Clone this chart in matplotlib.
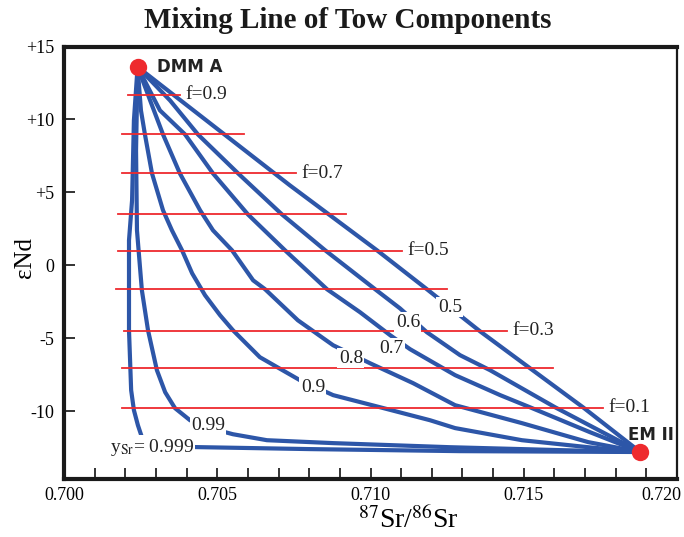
import matplotlib
matplotlib.use('Agg')
import matplotlib.pyplot as plt
from matplotlib.ticker import MultipleLocator, FixedLocator, FixedFormatter

plt.rcParams['font.family'] = ['Liberation Serif', 'DejaVu Serif']
plt.rcParams['mathtext.fontset'] = 'stix'

# end members
dmm_x, dmm_y = 0.7024, 13.6
em_x, em_y = 0.7188, -12.8

# mixing curves, points (between the two end members)
x_999 = [0.70228, 0.70222, 0.70212, 0.70212, 0.70219, 0.70228, 0.70241, 0.70254, 0.70281, 0.70450, 0.70803, 0.71292]
y_999 = [9.93, 4.45, 1.71, -4.45, -8.56, -9.93, -10.96, -11.78, -12.40, -12.47, -12.60, -12.74]

x_99 = [0.70235, 0.70238, 0.70254, 0.70274, 0.70303, 0.70330, 0.70362, 0.70411, 0.70476, 0.70551, 0.70662, 0.70878, 0.71259, 0.71618]
y_99 = [7.88, 2.40, -1.71, -4.45, -7.19, -8.70, -9.79, -10.62, -11.16, -11.58, -11.99, -12.19, -12.47, -12.67]

x_9 = [0.70251, 0.70264, 0.70287, 0.70323, 0.70352, 0.70385, 0.70418, 0.70460, 0.70509, 0.70551, 0.70639, 0.70770, 0.70878, 0.71031, 0.71194, 0.71276, 0.71494, 0.71710]
y_9 = [10.62, 8.97, 6.30, 3.77, 2.40, 1.03, -0.55, -2.05, -3.42, -4.45, -6.30, -7.88, -8.90, -9.73, -10.62, -11.16, -11.99, -12.47]

x_8 = [0.70281, 0.70323, 0.70378, 0.70444, 0.70486, 0.70548, 0.70617, 0.70656, 0.70763, 0.70878, 0.70998, 0.71139, 0.71276, 0.71494, 0.71710]
y_8 = [11.30, 8.97, 6.30, 3.77, 2.40, 1.03, -1.03, -1.64, -3.77, -5.48, -6.71, -8.08, -9.59, -10.82, -12.12]

x_7 = [0.70313, 0.70395, 0.70486, 0.70600, 0.70721, 0.70858, 0.70966, 0.71064, 0.71129, 0.71276, 0.71423, 0.71520, 0.71716]
y_7 = [10.62, 8.97, 6.30, 3.49, 1.03, -1.64, -3.22, -4.79, -5.75, -7.53, -8.90, -9.73, -11.44]

x_6 = [0.70346, 0.70437, 0.70568, 0.70711, 0.70852, 0.71015, 0.71096, 0.71184, 0.71292, 0.71390, 0.71602]
y_6 = [11.30, 8.97, 6.30, 3.49, 1.03, -1.64, -2.95, -4.59, -6.16, -7.19, -9.73]

x_5 = [0.70737, 0.71021, 0.71184, 0.71357, 0.71520, 0.71693]
y_5 = [5.48, 1.03, -1.64, -4.52, -7.05, -9.73]

curve_names = ['0.5', '0.6', '0.7', '0.8', '0.9', '0.99', 'y$_{\\rm Sr}$= 0.999']

# f = const lines
f_y = [11.7, 9.0, 6.3, 3.5, 1.0, -1.65, -4.5, -7.05, -9.75]
f_x0 = [0.70209, 0.70189, 0.70189, 0.70176, 0.70176, 0.70170, 0.70196, 0.70189, 0.70189]
f_x1 = [0.70378, 0.70587, 0.70757, 0.70920, 0.71103, 0.71250, 0.71445, 0.71595, 0.71759]
f_names = ['f=0.9', '', 'f=0.7', '', 'f=0.5', '', 'f=0.3', '', 'f=0.1']

x_ticks = [0.700, 0.705, 0.710, 0.715]
x_last = 0.720
y_ticks = [15, 10, 5, 0, -5, -10]
y_ticklabels = ['+15', '+10', '+5', '0', '-5', '-10']

blue = '#2d56a8'
red = '#ee2a2e'

fig = plt.figure(figsize=(6.84, 5.37), dpi=100)
ax = fig.add_axes([0.0936, 0.108, 0.8962, 0.8054])

curves = [(x_5, y_5), (x_6, y_6), (x_7, y_7), (x_8, y_8), (x_9, y_9), (x_99, y_99), (x_999, y_999)]
for xs, ys in curves:
    ax.plot([dmm_x] + xs + [em_x], [dmm_y] + ys + [em_y], color=blue, lw=3.0,
            solid_joinstyle='round', solid_capstyle='round', zorder=2)

for y, x0, x1, name in zip(f_y, f_x0, f_x1, f_names):
    ax.plot([x0, x1], [y, y], color=red, lw=1.3, zorder=3)
    if name:
        ax.annotate(name, (x1, y), xytext=(4, 0), textcoords='offset points',
                    ha='left', va='center', fontsize=14, color='#222222', zorder=5)

# curve labels (white boxes break the lines)
label_pos = [(0.71259, -2.88), (0.71122, -3.90), (0.71067, -5.68), (0.70936, -6.37),
             (0.70812, -8.36), (0.70470, -10.96), (0.70287, -12.47)]
for (lx, ly), name in zip(label_pos, curve_names):
    ax.text(lx, ly, name, ha='center', va='center', fontsize=14, color='#222222', zorder=6,
            bbox=dict(facecolor='white', edgecolor='none', pad=1.0))

ax.plot([dmm_x, em_x], [dmm_y, em_y], 'o', color=red, ms=12.5, mec='none', zorder=7, ls='none')
ax.annotate('DMM A', (dmm_x, dmm_y), xytext=(14, 0), textcoords='offset points',
            ha='left', va='center', fontsize=12, fontweight='bold',
            family=['DejaVu Sans'], color='#222222', zorder=8)
ax.annotate('EM II', (em_x, em_y), xytext=(8, 12), textcoords='offset points',
            ha='center', va='center', fontsize=12, fontweight='bold',
            family=['DejaVu Sans'], color='#222222', zorder=8)

ax.set_xlim(0.700, 0.720)
ax.set_ylim(-14.65, 15)

ax.xaxis.set_major_locator(FixedLocator(x_ticks))
ax.xaxis.set_minor_locator(MultipleLocator(0.001))
ax.xaxis.set_major_formatter(plt.FuncFormatter(lambda v, p: '%.3f' % v))
ax.yaxis.set_major_locator(FixedLocator(y_ticks))
ax.yaxis.set_major_formatter(FixedFormatter(y_ticklabels))

ax.tick_params(axis='both', which='both', direction='in', length=8, width=1.2,
               labelsize=13, color='#111111')
ax.tick_params(axis='x', pad=6)
ax.tick_params(axis='y', pad=7)

# last x label nudged left so it stays inside the picture
ax.annotate('%.3f' % x_last, xy=(x_last, 0), xycoords=('data', 'axes fraction'),
            xytext=(-11, -6), textcoords='offset points', ha='center', va='top', fontsize=13)

for side in ['left', 'top', 'bottom']:
    ax.spines[side].set_linewidth(3.0)
ax.spines['right'].set_linewidth(1.6)
for s in ax.spines.values():
    s.set_color('#1a1a1a')

fig.text(0.597, 0.032, '$^{87}$Sr/$^{86}$Sr', ha='center', va='center', fontsize=20)
fig.text(0.037, 0.52, 'εNd', ha='center', va='center', rotation=90, fontsize=18)

fig.text(0.508, 0.961, 'Mixing Line of Tow Components', ha='center', va='center',
         fontsize=21, fontweight='bold', color='#1a1a1a')

fig.savefig('out.png', dpi=100)
